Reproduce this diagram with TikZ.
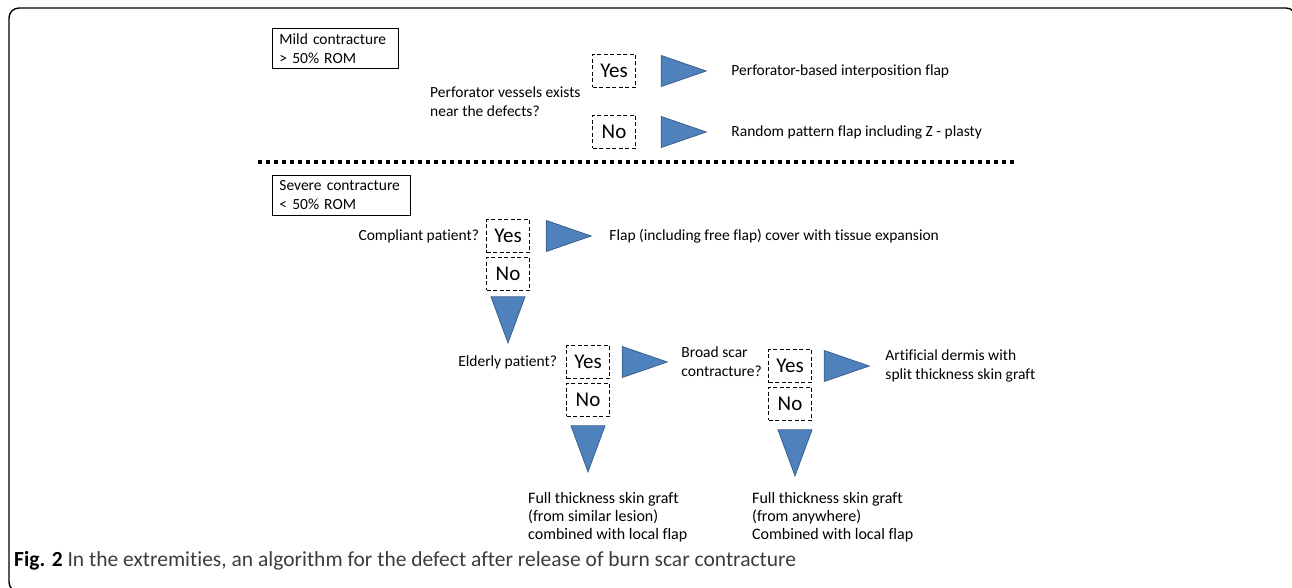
\documentclass[tikz,border=0pt]{standalone}
\usepackage{fontspec}
\setmainfont{Carlito}[Ligatures=NoCommon]
\usepackage{xcolor}
\usepackage{tikz}
\usetikzlibrary{shapes,positioning}
\definecolor{triFill}{HTML}{4F81BD}
\definecolor{triLine}{HTML}{3A5F8B}
\definecolor{captionGray}{HTML}{3C3C3C}
\tikzset{stage-box/.style={draw, line width=0.8pt, align=left, anchor=north west, inner xsep=7pt, font=\fontsize{15.5}{19}\selectfont}}
\tikzset{answer-box/.style={draw, dash pattern=on 4pt off 2.5pt, line width=0.6pt, minimum width=43pt, minimum height=33pt, inner sep=0, font=\fontsize{21}{22}\selectfont}}
\tikzset{label-text/.style={align=left, inner sep=0, font=\fontsize{15.5}{19}\selectfont}}
\tikzset{arrow-right/.style={
        draw=triLine,
        fill=triFill,
        line width=0.8pt,
        isosceles triangle,
        isosceles triangle stretches,
        inner sep=0,
        minimum width=31pt,
        minimum height=45pt
    }
}
\tikzset{arrow-down/.style={arrow-right, shape border rotate=-90, minimum width=34pt, minimum height=46pt}}
\tikzset{dotted-rule/.style={line width=4pt, dash pattern=on 4pt off 4pt}}

\begin{document}
\begin{tikzpicture}[x=1pt, y=-1pt]
    \useasboundingbox (0,0) rectangle (1292,588);
    \draw[line width=1.4pt, rounded corners=10pt] (9,8) rectangle (1296,592);

    % mild contracture
    \node[stage-box, minimum height=40pt, text width=112pt] (mild) at (272,28) {Mild contracture\\> 50\% ROM};
    \node[answer-box] (yesA) at (614,71) {Yes};
    \node[answer-box] (noA) at (614,132) {No};
    \node[label-text, anchor=west] (perforator) at (430,102) {Perforator vessels exists\\near the defects?};
    \node[arrow-right, right=25pt of yesA] (triA1) {};
    \node[arrow-right, right=25pt of noA] (triA2) {};
    \node[label-text, right=24pt of triA1] (interposition) {Perforator-based interposition flap};
    \node[label-text, right=24pt of triA2] (randomflap) {Random pattern flap including Z - plasty};

    \coordinate (ruleL) at (258,162);
    \coordinate (ruleR) at (1015,162);
    \draw[dotted-rule] (ruleL) -- (ruleR);

    % severe contracture
    \node[stage-box, minimum height=40pt, text width=124pt] (severe) at (272,175) {Severe contracture\\< 50\% ROM};
    \node[answer-box] (yesB) at (508,236) {Yes};
    \node[label-text, left=7pt of yesB] (compliant) {Compliant patient?};
    \node[answer-box, below=4pt of yesB] (noB) {No};
    \node[arrow-right, right=16pt of yesB] (triB1) {};
    \node[label-text, right=17pt of triB1] (expansion) {Flap (including free flap) cover with tissue expansion};
    \node[arrow-down, below=6pt of noB] (triB2) {};

    \node[answer-box] (yesC) at (588,362) {Yes};
    \node[label-text, left=9pt of yesC] (elderly) {Elderly patient?};
    \node[answer-box, below=4pt of yesC] (noC) {No};
    \node[arrow-right, right=12pt of yesC] (triC1) {};
    \node[arrow-down, below=9pt of noC] (triC2) {};
    \node[label-text, right=13pt of triC1] (broad) {Broad scar\\contracture?};

    \node[answer-box] (yesD) at (790,366) {Yes};
    \node[answer-box, below=4pt of yesD] (noD) {No};
    \node[arrow-right, right=12pt of yesD] (triD1) {};
    \node[arrow-down, below=9pt of noD, xshift=5pt] (triD2) {};
    \node[label-text, right=15pt of triD1] (dermis) {Artificial dermis with\\split thickness skin graft};

    \node[label-text, anchor=north west, font=\fontsize{16}{18}\selectfont] (graftC) at (528,492) {Full thickness skin graft\\(from similar lesion)\\combined with local flap};
    \node[label-text, anchor=north west, font=\fontsize{16}{18}\selectfont] (graftD) at (752,492) {Full thickness skin graft\\(from anywhere)\\Combined with local flap};

    \node[anchor=west, inner sep=0, font=\fontsize{21.5}{24}\selectfont, text=captionGray] (caption) at (14,561) {\textcolor{black}{\textbf{Fig. 2}} In the extremities, an algorithm for the defect after release of burn scar contracture};
\end{tikzpicture}
\end{document}
